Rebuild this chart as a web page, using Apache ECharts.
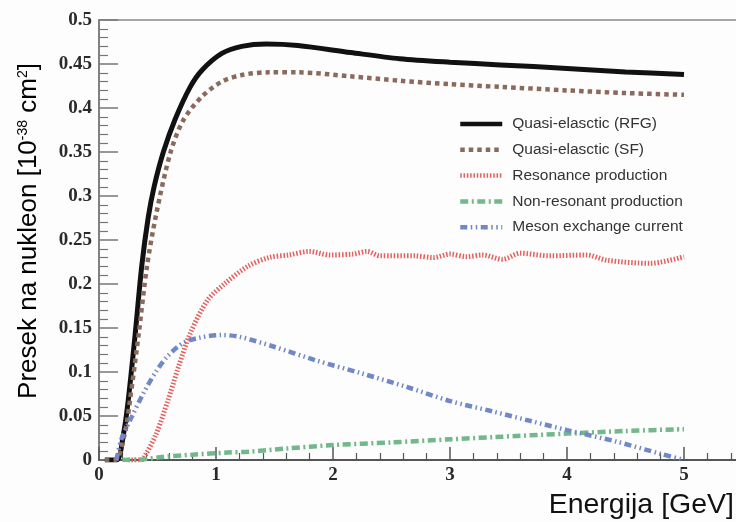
<!DOCTYPE html>
<html>
<head>
<meta charset="utf-8">
<script src="https://cdn.jsdelivr.net/npm/echarts@6/dist/echarts.min.js"></script>
<style>html,body{margin:0;padding:0;background:#fefdfd;}#c{width:736px;height:522px;}</style>
</head>
<body>
<div id="c"></div>
<script>
var seriesNames = ['Quasi-elasctic (RFG)', 'Quasi-elasctic (SF)', 'Resonance production', 'Non-resonant production', 'Meson exchange current'];
var rfgData = [[0.05,0],[0.15,0],[0.21,0.03],[0.25,0.068],[0.31,0.144],[0.365,0.22],[0.42,0.275],[0.47,0.31],[0.55,0.35],[0.65,0.387],[0.78,0.424],[0.88,0.443],[1.05,0.462],[1.22,0.47],[1.43,0.4727],[1.7,0.471],[2.15,0.463],[2.57,0.456],[3.0,0.452],[3.43,0.449],[4.0,0.445],[4.5,0.441],[5.0,0.438]];
var sfData = [[0.05,0],[0.14,0],[0.22,0.03],[0.265,0.068],[0.34,0.144],[0.41,0.22],[0.49,0.28],[0.61,0.349],[0.72,0.386],[0.88,0.413],[1.05,0.43],[1.22,0.4375],[1.45,0.4405],[1.7,0.4405],[2.15,0.436],[2.57,0.431],[3.0,0.427],[3.43,0.424],[4.0,0.42],[4.5,0.417],[5.0,0.415]];
var resData = [[0.25,0],[0.36,0],[0.39,0.004],[0.49,0.03],[0.59,0.068],[0.68,0.106],[0.78,0.144],[0.93,0.182],[1.08,0.201],[1.27,0.22],[1.45,0.23],[1.62,0.233],[1.80,0.237],[1.97,0.233],[2.17,0.234],[2.29,0.237],[2.40,0.232],[2.69,0.232],[2.86,0.230],[3.0,0.234],[3.14,0.231],[3.28,0.233],[3.45,0.228],[3.6,0.235],[3.85,0.232],[4.17,0.233],[4.34,0.227],[4.71,0.2235],[5.0,0.231]];
var nonResData = [[0.2,0],[0.4,0.001],[0.54,0.0035],[0.8,0.006],[1.1,0.0085],[1.29,0.0095],[1.6,0.013],[2.0,0.017],[2.5,0.02],[3.0,0.0235],[3.37,0.026],[4.0,0.03],[4.5,0.033],[5.0,0.035]];
var mecData = [[0.15,0],[0.19,0.023],[0.28,0.049],[0.38,0.076],[0.48,0.099],[0.58,0.117],[0.72,0.133],[0.86,0.139],[1.05,0.142],[1.2,0.14],[1.49,0.129],[1.86,0.113],[2.23,0.099],[2.63,0.083],[3.0,0.067],[3.37,0.055],[3.7,0.044],[4.0,0.034],[4.42,0.021],[4.8,0.007],[5.0,0]];
var xTickLabels = ['0','1','2','3','4','5'];

var chart = echarts.init(document.getElementById('c'));
function mk(name, data, color, width, dash) {
  return {
    name: name, type: 'line', data: data, showSymbol: false, symbol: 'none', smooth: 0.3,
    lineStyle: {color: color, width: width, type: dash, cap: 'butt'},
    itemStyle: {color: color}
  };
}
chart.setOption({
  backgroundColor: '#fefdfd',
  animation: false,
  grid: {left: 99, top: 20, width: 643.5, height: 440, show: true, borderColor: '#888', borderWidth: 1.5, outerBoundsMode: 'none', containLabel: false},
  xAxis: {
    type: 'value', min: 0, max: 5.5, interval: 1,
    axisLine: {lineStyle: {color: '#555', width: 2}},
    axisTick: {inside: true, length: 13, lineStyle: {color: '#555', width: 1.5}},
    minorTick: {show: true, splitNumber: 5, length: 7, lineStyle: {color: '#555', width: 1.2}},
    splitLine: {show: false},
    axisLabel: {margin: 6, fontFamily: 'Liberation Serif', fontWeight: 'bold', fontSize: 19, color: '#2a2a2a',
      formatter: function (v) { var i = xTickLabels.indexOf(String(v)); return i >= 0 ? xTickLabels[i] : ''; }}
  },
  yAxis: {
    type: 'value', min: 0, max: 0.5, interval: 0.05,
    axisLine: {show: true, lineStyle: {color: '#777', width: 1.5}},
    axisTick: {inside: true, length: 19, lineStyle: {color: '#777', width: 1.5}},
    minorTick: {show: true, splitNumber: 5, length: 9, lineStyle: {color: '#777', width: 1.2}},
    splitLine: {show: false},
    axisLabel: {margin: 7, fontFamily: 'Liberation Serif', fontWeight: 'bold', fontSize: 19, color: '#2a2a2a'}
  },
  legend: {
    orient: 'vertical', left: 458, top: 116, itemWidth: 42, itemHeight: 16, itemGap: 9.8, padding: 0,
    itemStyle: {opacity: 0},
    lineStyle: {width: 4.5},
    textStyle: {fontFamily: 'Liberation Sans', fontSize: 15.5, color: '#333', padding: [0, 0, 0, 5]},
    data: seriesNames
  },
  graphic: [
    {type: 'text', x: 29, y: 231, rotation: Math.PI / 2,
      style: {text: '{a|Presek na nukleon [10}{s|-38}{a| cm}{s|2}{a|]}', align: 'center', verticalAlign: 'middle',
        rich: {a: {fontFamily: 'Liberation Sans', fontSize: 26, color: '#111'},
               s: {fontFamily: 'Liberation Sans', fontSize: 14, color: '#111', verticalAlign: 'top'}}}},
    {type: 'text', x: 734, y: 505,
      style: {text: 'Energija [GeV]', align: 'right', verticalAlign: 'middle', fontFamily: 'Liberation Sans', fontSize: 28.5, fill: '#111'}}
  ],
  series: [
    mk(seriesNames[0], rfgData, '#111111', 5, 'solid'),
    mk(seriesNames[1], sfData, '#8a6a5c', 4.5, [4.5, 4]),
    mk(seriesNames[2], resData, '#e4605f', 5, [1.5, 1.8]),
    mk(seriesNames[3], nonResData, '#72b88a', 4.5, [8, 3.5, 2, 3.5]),
    mk(seriesNames[4], mecData, '#7088c8', 4.5, [7, 3.5, 1.5, 3.5, 1.5, 3.5])
  ]
});
</script>
</body>
</html>
